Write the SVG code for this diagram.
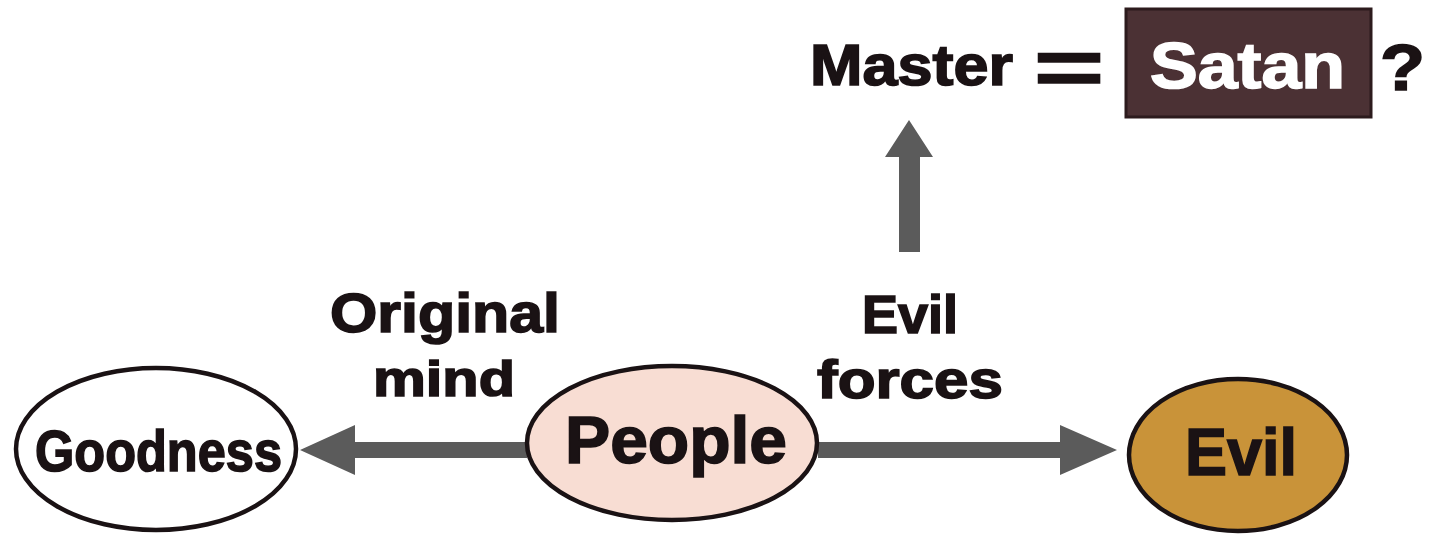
<svg xmlns="http://www.w3.org/2000/svg" width="1439" height="535" viewBox="0 0 1439 535">
<style>
.t{font-family:"Liberation Sans","Arial",sans-serif;font-weight:bold;fill:#1a1214;stroke:#1a1214;stroke-width:1.6}
.w{fill:#ffffff;stroke:#ffffff}
.node{stroke:#1a1214;stroke-width:4.5}
.conn{fill:#5b5b5b}
</style>
<rect width="1439" height="535" fill="#ffffff"/>
<g id="connectors">
  <polygon class="conn" points="527,442 355,442 355,425 300,450 355,475 355,458 527,458"/>
  <polygon class="conn" points="818,442 1060,442 1060,425 1117,450 1060,475 1060,458 818,458"/>
  <polygon class="conn" points="899,252 899,157 885,157 909,120 933,157 920,157 920,252"/>
</g>
<g id="master">
  <text class="t" x="810" y="85" font-size="58" textLength="203" lengthAdjust="spacingAndGlyphs">Master</text>
  <text class="t" x="1034" y="94" font-size="77" textLength="70" lengthAdjust="spacingAndGlyphs">=</text>
</g>
<g id="satan">
  <rect x="1126" y="9" width="245" height="108" fill="#4b3134" stroke="#2c1b1d" stroke-width="3"/>
  <text class="t w" x="1150" y="88" font-size="64" textLength="195" lengthAdjust="spacingAndGlyphs">Satan</text>
</g>
<g id="question">
  <text class="t" x="1380" y="90" font-size="64" textLength="45" lengthAdjust="spacingAndGlyphs">?</text>
</g>
<g id="label-original">
  <text class="t" x="330" y="332" font-size="55" textLength="230" lengthAdjust="spacingAndGlyphs">Original</text>
  <text class="t" x="373" y="396" font-size="50" textLength="142" lengthAdjust="spacingAndGlyphs">mind</text>
</g>
<g id="label-evil-forces">
  <text class="t" x="862" y="333" font-size="53" textLength="96" lengthAdjust="spacingAndGlyphs">Evil</text>
  <text class="t" x="817" y="398" font-size="54" textLength="186" lengthAdjust="spacingAndGlyphs">forces</text>
</g>
<g id="goodness">
  <ellipse class="node" cx="156" cy="449" rx="140" ry="81" fill="#ffffff"/>
  <text class="t" x="35" y="471" font-size="57" textLength="247" lengthAdjust="spacingAndGlyphs">Goodness</text>
</g>
<g id="people">
  <ellipse class="node" cx="672" cy="443" rx="145" ry="77" fill="#f8ddd3"/>
  <text class="t" x="565" y="463" font-size="67" textLength="222" lengthAdjust="spacingAndGlyphs">People</text>
</g>
<g id="evil">
  <ellipse class="node" cx="1238" cy="455" rx="109" ry="76" fill="#c99339"/>
  <text class="t" x="1185" y="475" font-size="67" textLength="112" lengthAdjust="spacingAndGlyphs">Evil</text>
</g>
</svg>
